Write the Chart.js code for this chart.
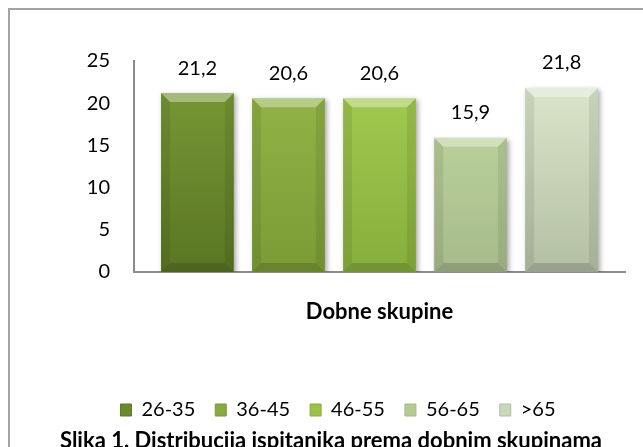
<!DOCTYPE html>
<html>
<head>
<meta charset="utf-8">
<script src="https://cdn.jsdelivr.net/npm/chart.js@4/dist/chart.umd.min.js"></script>
<style>
    html, body { margin: 0; padding: 0; background: #ffffff; overflow: hidden; }
    #wrap { position: relative; width: 643px; height: 447px; overflow: hidden; }
    #frame { position: absolute; left: 8px; top: 8px; width: 700px; height: 500px; border: 2px solid #a3a3a3; box-sizing: border-box; }
    #chartBox { position: absolute; left: 0; top: 0; width: 643px; height: 447px; }
    #caption { position: absolute; left: 0; width: 662px; top: 427px; text-align: center;
        font: bold 22px Lato, sans-serif; line-height: 26px; color: #000; white-space: nowrap; }
</style>
</head>
<body>
<div id="wrap">
    <div id="frame"></div>
    <div id="chartBox"><canvas id="ageChart"></canvas></div>
    <div id="caption">Slika 1. Distribucija ispitanika prema dobnim skupinama</div>
</div>
<script>
// Chart data
const categories = ['Dobne skupine'];
const groups = ['26-35', '36-45', '46-55', '56-65', '>65'];
const values = [21.2, 20.6, 20.6, 15.9, 21.8];
const yTicks = [0, 5, 10, 15, 20, 25];

// Bar colours (top / bottom of gradient) and legend swatches
const topColors = ['#7b9c37', '#94b749', '#a6cd52', '#c4dca2', '#dfeacf'];
const bottomColors = ['#5a7623', '#7b9b35', '#87ae3b', '#a6ba8b', '#b3bfa3'];
const swatchColors = ['#6b8a2d', '#88aa3f', '#9bc246', '#b5cc8f', '#cad7b8'];

const FONT = 'Lato, sans-serif';

function barGradient(index) {
    return function(context) {
        const chart = context.chart;
        const area = chart.chartArea;
        if (!area) return swatchColors[index];
        const g = chart.ctx.createLinearGradient(0, area.top, 0, area.bottom);
        g.addColorStop(0, topColors[index]);
        g.addColorStop(1, bottomColors[index]);
        return g;
    };
}

// soft shadow under the bars
const shadowPlugin = {
    id: 'barShadow',
    beforeDatasetsDraw(chart) {
        const ctx = chart.ctx;
        ctx.save();
        ctx.shadowColor = 'rgba(0, 0, 0, 0.35)';
        ctx.shadowBlur = 5;
        ctx.shadowOffsetX = 2;
        ctx.shadowOffsetY = 2;
    },
    afterDatasetsDraw(chart) {
        chart.ctx.restore();
    }
};

// bevel edges + value labels
const bevelPlugin = {
    id: 'bevelLabels',
    afterDatasetsDraw(chart) {
        const ctx = chart.ctx;
        const b = 9;
        chart.data.datasets.forEach((ds, i) => {
            const meta = chart.getDatasetMeta(i);
            meta.data.forEach((bar, j) => {
                const p = bar.getProps(['x', 'y', 'base', 'width'], true);
                const l = p.x - p.width / 2, r = p.x + p.width / 2;
                const t = p.y, bt = p.base;
                ctx.save();
                // top
                ctx.fillStyle = 'rgba(255, 255, 255, 0.35)';
                ctx.beginPath();
                ctx.moveTo(l, t); ctx.lineTo(r, t); ctx.lineTo(r - b, t + b); ctx.lineTo(l + b, t + b);
                ctx.closePath(); ctx.fill();
                // sides
                ctx.fillStyle = 'rgba(0, 0, 0, 0.08)';
                ctx.beginPath();
                ctx.moveTo(l, t); ctx.lineTo(l + b, t + b); ctx.lineTo(l + b, bt - b); ctx.lineTo(l, bt);
                ctx.closePath(); ctx.fill();
                ctx.beginPath();
                ctx.moveTo(r, t); ctx.lineTo(r - b, t + b); ctx.lineTo(r - b, bt - b); ctx.lineTo(r, bt);
                ctx.closePath(); ctx.fill();
                // bottom
                ctx.fillStyle = 'rgba(0, 0, 0, 0.15)';
                ctx.beginPath();
                ctx.moveTo(l, bt); ctx.lineTo(r, bt); ctx.lineTo(r - b, bt - b); ctx.lineTo(l + b, bt - b);
                ctx.closePath(); ctx.fill();
                // value label
                ctx.fillStyle = '#000000';
                ctx.font = '20px ' + FONT;
                ctx.textAlign = 'center';
                ctx.textBaseline = 'middle';
                ctx.fillText(String(ds.data[j]).replace('.', ','), p.x, t - 25);
                ctx.restore();
            });
        });
    }
};

const ctx = document.getElementById('ageChart').getContext('2d');

new Chart(ctx, {
    type: 'bar',
    data: {
        labels: categories,
        datasets: groups.map((name, i) => ({
            label: name,
            data: [values[i]],
            backgroundColor: barGradient(i),
            borderWidth: 0,
            categoryPercentage: 0.927,
            barPercentage: 0.80
        }))
    },
    options: {
        responsive: true,
        maintainAspectRatio: false,
        animation: false,
        layout: {
            padding: { top: 61, left: 51, right: 18, bottom: 17 }
        },
        plugins: {
            tooltip: { enabled: false },
            legend: {
                position: 'bottom',
                labels: {
                    color: '#000000',
                    font: { family: FONT, size: 20 },
                    boxWidth: 11,
                    boxHeight: 12,
                    padding: 20,
                    generateLabels: function(chart) {
                        return chart.data.datasets.map((ds, i) => ({
                            text: ds.label,
                            fillStyle: swatchColors[i],
                            strokeStyle: bottomColors[i],
                            lineWidth: 1,
                            hidden: false,
                            datasetIndex: i
                        }));
                    }
                }
            }
        },
        scales: {
            x: {
                grid: { display: false, drawTicks: false },
                border: { display: true, color: '#8c8c8c', width: 2 },
                ticks: {
                    color: '#000000',
                    padding: 27,
                    font: { family: FONT, size: 22, weight: 'bold' }
                },
                afterFit: function(scale) { scale.height = 108; }
            },
            y: {
                min: 0,
                max: 25,
                grid: { display: false, drawTicks: false },
                border: { display: true, color: '#8c8c8c', width: 2 },
                afterBuildTicks: function(scale) {
                    scale.ticks = yTicks.map(v => ({ value: v }));
                },
                ticks: {
                    color: '#000000',
                    padding: 24,
                    font: { family: FONT, size: 20 }
                },
                afterFit: function(scale) { scale.width = 83; }
            }
        }
    },
    plugins: [shadowPlugin, bevelPlugin]
});
</script>
</body>
</html>
